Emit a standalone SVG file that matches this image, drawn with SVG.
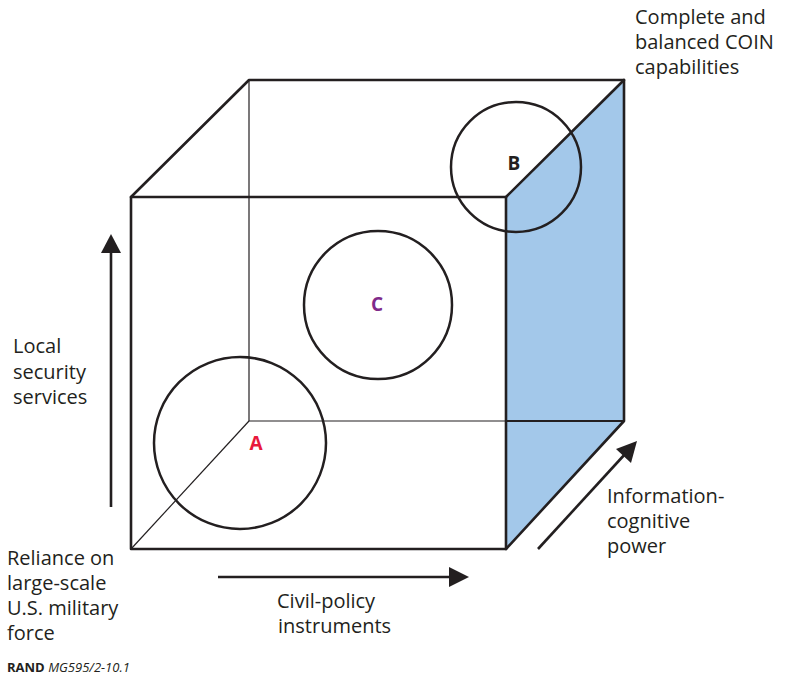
<svg xmlns="http://www.w3.org/2000/svg" width="786" height="677" viewBox="0 0 786 677">
<style>
.t{font-family:"Open Sans","Noto Sans","DejaVu Sans",sans-serif;font-size:20px;fill:#231f20}
.lbl{font-family:"Open Sans","Noto Sans","DejaVu Sans",sans-serif;font-size:19px;font-weight:bold;text-anchor:middle}
.thick{stroke:#231f20;stroke-width:2.6;fill:none;stroke-linecap:round;stroke-linejoin:round}
.thin{stroke:#231f20;stroke-width:1.2;fill:none}
.circ{stroke:#231f20;stroke-width:2.5;fill:none}
.arr{stroke:#231f20;stroke-width:2.6;fill:none}
</style>
<rect width="786" height="677" fill="#ffffff"/>
<g id="cube">
<polygon points="506,197 624,80 624,421 506,549" fill="#a3c8ea"/>
<line class="thin" x1="249" y1="80" x2="249" y2="421"/>
<line class="thin" x1="249" y1="421" x2="506" y2="421"/>
<line class="thin" x1="131" y1="549" x2="249" y2="421"/>
<line x1="506" y1="421" x2="624" y2="421" stroke="#231f20" stroke-width="1.8"/>
<rect class="thick" x="131" y="197" width="375" height="352"/>
<polyline class="thick" points="131,197 249,80 624,80 624,421 506,549"/>
<line class="thick" x1="506" y1="197" x2="624" y2="80"/>
</g>
<g id="circle-A">
<circle class="circ" cx="240" cy="443" r="86"/>
<text class="lbl" x="256" y="450" fill="#e8193c">A</text>
</g>
<g id="circle-B">
<circle class="circ" cx="516" cy="167" r="65"/>
<text class="lbl" x="514" y="170" fill="#231f20">B</text>
</g>
<g id="circle-C">
<circle class="circ" cx="378" cy="305" r="74"/>
<text class="lbl" x="377" y="311" fill="#7f2a8a">C</text>
</g>
<g id="connectors">
<line x1="111" y1="507" x2="111" y2="250" class="arr"/>
<path d="M101,253 L111,234 L121,253 Z" fill="#231f20"/>
<line x1="218" y1="577" x2="452" y2="577" class="arr"/>
<path d="M449,567 L469,577 L449,587 Z" fill="#231f20"/>
<line x1="538" y1="549" x2="626" y2="453" class="arr"/>
<path d="M616,449 L637,441 L631,463 Z" fill="#231f20"/>
</g>
<g id="label-local">
<text class="t" x="13" y="353">Local</text>
<text class="t" x="13" y="379">security</text>
<text class="t" x="13" y="404">services</text>
</g>
<g id="label-reliance">
<text class="t" x="7" y="565">Reliance on</text>
<text class="t" x="7" y="590">large-scale</text>
<text class="t" x="7" y="615">U.S. military</text>
<text class="t" x="7" y="640">force</text>
</g>
<g id="label-civil">
<text class="t" x="277" y="608">Civil-policy</text>
<text class="t" x="278" y="633">instruments</text>
</g>
<g id="label-info">
<text class="t" x="607" y="503">Information-</text>
<text class="t" x="607" y="528">cognitive</text>
<text class="t" x="607" y="553">power</text>
</g>
<g id="label-complete">
<text class="t" x="635" y="24">Complete and</text>
<text class="t" x="635" y="49">balanced COIN</text>
<text class="t" x="635" y="74">capabilities</text>
</g>
<text x="7" y="672" font-family="Open Sans, Noto Sans, sans-serif" font-size="13" fill="#231f20"><tspan font-weight="bold">RAND</tspan> <tspan font-style="italic">MG595/2-10.1</tspan></text>
</svg>
